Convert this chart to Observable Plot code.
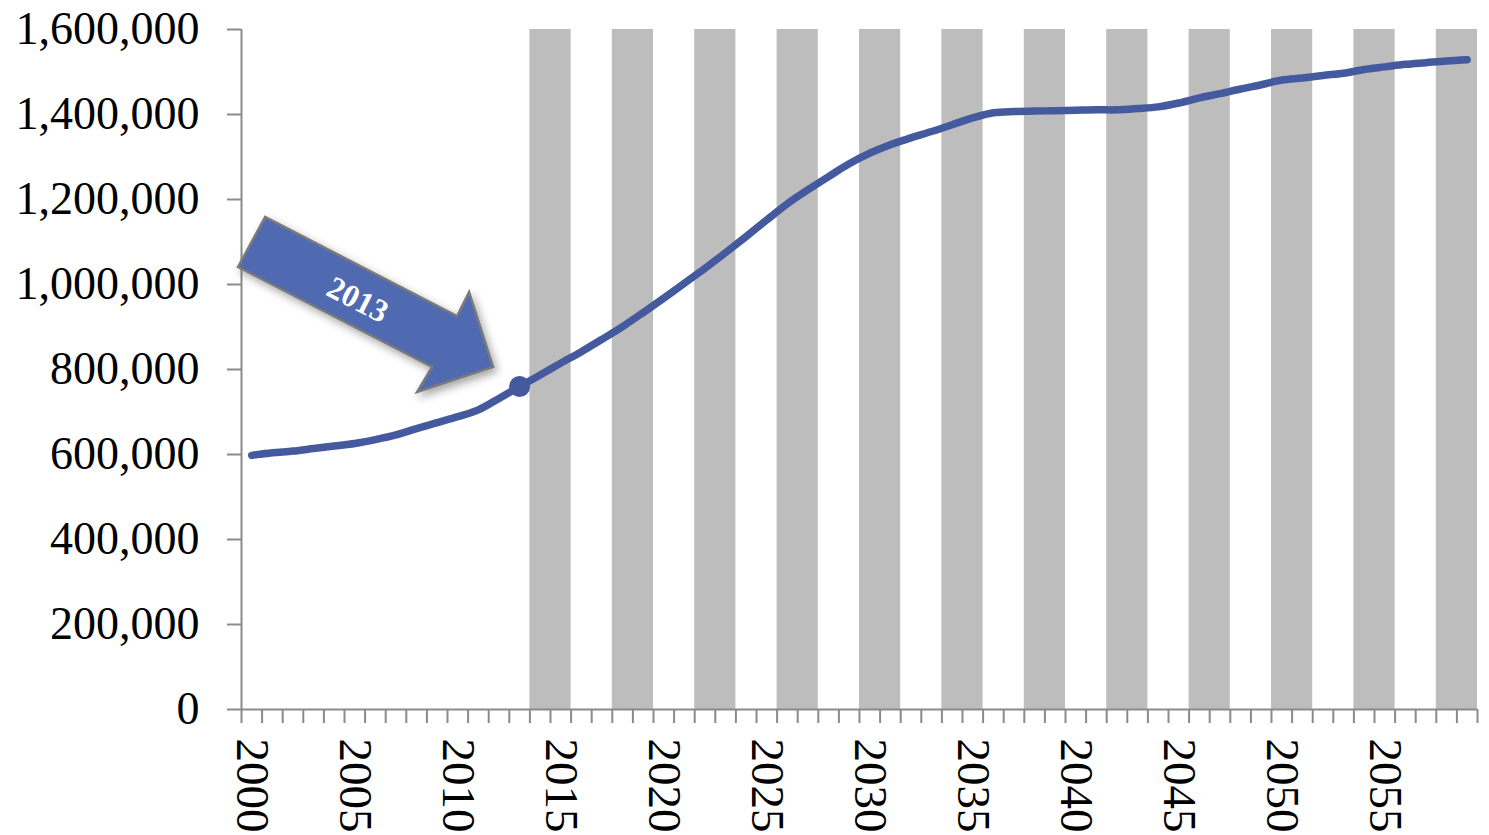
<!DOCTYPE html>
<html>
<head>
<meta charset="utf-8">
<script src="https://cdn.jsdelivr.net/npm/d3@7"></script>
<script src="https://cdn.jsdelivr.net/npm/@observablehq/plot@0.6"></script>
<style>
  html, body { margin: 0; padding: 0; background: #fff; overflow: hidden; }
  svg { display: block; }
</style>
</head>
<body>
<div id="chart"></div>
<script>
// ---- data ----
const years = [2000,2001,2002,2003,2004,2005,2006,2007,2008,2009,
               2010,2011,2012,2013,2014,2015,2016,2017,2018,2019,
               2020,2021,2022,2023,2024,2025,2026,2027,2028,2029,
               2030,2031,2032,2033,2034,2035,2036,2037,2038,2039,
               2040,2041,2042,2043,2044,2045,2046,2047,2048,2049,
               2050,2051,2052,2053,2054,2055,2056,2057,2058,2059];
const population = [598000,604000,608000,614000,620000,626000,635000,646000,661000,675000,
                    689000,705000,732000,760000,787000,815000,842000,871000,901000,934000,
                    968000,1003000,1038000,1075000,1113000,1152000,1190000,1223000,1254000,1284000,
                    1309000,1329000,1345000,1360000,1376000,1392000,1404000,1407000,1408000,1409000,
                    1410000,1411000,1411000,1414000,1418000,1427000,1439000,1449000,1460000,1470000,
                    1481000,1486000,1492000,1497000,1506000,1512000,1518000,1522000,1526000,1529000];
const shadedYears = [2014,2015,2018,2019,2022,2023,2026,2027,2030,2031,2034,2035,
                     2038,2039,2042,2043,2046,2047,2050,2051,2054,2055,2058,2059];
const shadedValue = 1600000;
const yTicks = [0,200000,400000,600000,800000,1000000,1200000,1400000,1600000];
const xLabelYears = [2000,2005,2010,2015,2020,2025,2030,2035,2040,2045,2050,2055];
const markerYear = 2013;
const markerLabel = "2013";

// ---- derived tables ----
const data = years.map((year, i) => ({year, value: population[i]}));
const boundaries = years.map(y => y - 0.5).concat([years[years.length - 1] + 0.5]);
const marker = data.filter(d => d.year === markerYear);
// merge consecutive shaded years into runs so adjacent bars show no seam
const runs = [];
for (const y of shadedYears) {
  const last = runs[runs.length - 1];
  if (last && last.end === y - 1) last.end = y;
  else runs.push({start: y, end: y});
}

const lineColor = "#44599E";
const axisColor = "#8a8a8a";
const font = "'Liberation Serif', 'Times New Roman', Times, serif";
const fs = 46;

const chart = Plot.plot({
  width: 1489,
  height: 835,
  marginLeft: 241,
  marginRight: 12,
  marginTop: 29,
  marginBottom: 126,
  style: {fontFamily: font, fontSize: fs + "px", color: "#000", background: "#fff", overflow: "visible"},
  x: {domain: [boundaries[0], boundaries[boundaries.length - 1]]},
  y: {domain: [0, shadedValue]},
  marks: [
    Plot.rectY(runs, {x1: d => d.start - 0.5, x2: d => d.end + 0.5, y1: 0, y2: () => shadedValue, fill: "#BDBDBD"}),
    Plot.ruleY([0], {stroke: axisColor, strokeWidth: 2}),
    Plot.ruleX([boundaries[0]], {stroke: axisColor, strokeWidth: 2}),
    Plot.axisY(yTicks, {tickSize: 14, tickPadding: 28, tickFormat: d3.format(","), stroke: axisColor, strokeWidth: 2, fill: "#000", fontSize: fs, label: null}),
    Plot.axisX(boundaries, {tickSize: 14, stroke: axisColor, strokeWidth: 2, fill: "none", label: null}),
    Plot.axisX(xLabelYears, {tickSize: 0, tickRotate: 90, tickPadding: 29, tickFormat: d => String(d), fill: "#000", fontSize: fs + 1, label: null}),
    Plot.line(data, {x: "year", y: "value", stroke: lineColor, strokeWidth: 7.5, curve: "catmull-rom", strokeLinecap: "round", strokeLinejoin: "round"}),
    Plot.dot(marker, {x: "year", y: "value", r: 10.5, fill: lineColor})
  ]
});

document.getElementById("chart").appendChild(chart);

// ---- annotation arrow pointing at the marker, positioned from the scales ----
const sx = chart.scale("x"), sy = chart.scale("y");
const mx = sx.apply(marker[0].year), my = sy.apply(marker[0].value);
const tip = [mx - 26, my - 19];
const shape = [[-228,-150],[-255,-100],[-61,0],[-76,25],[0,0],[-24,-75],[-36,-51]];
const svg = d3.select(chart);
const defs = svg.append("defs");
const filt = defs.append("filter").attr("id", "arrowShadow").attr("x", "-20%").attr("y", "-20%").attr("width", "140%").attr("height", "140%");
filt.append("feDropShadow").attr("dx", 3).attr("dy", 4).attr("stdDeviation", 4).attr("flood-color", "#000").attr("flood-opacity", 0.35);
const grad = defs.append("linearGradient").attr("id", "arrowGrad")
  .attr("gradientUnits", "userSpaceOnUse")
  .attr("x1", tip[0] - 228 + 12).attr("y1", tip[1] - 150 - 22)
  .attr("x2", tip[0] - 255 - 12).attr("y2", tip[1] - 100 + 22);
grad.append("stop").attr("offset", "0%").attr("stop-color", "#7d92cc");
grad.append("stop").attr("offset", "22%").attr("stop-color", "#4f6bb1");
grad.append("stop").attr("offset", "78%").attr("stop-color", "#4f6bb1");
grad.append("stop").attr("offset", "100%").attr("stop-color", "#7d92cc");
const g = svg.append("g");
g.append("path")
  .attr("d", "M" + shape.map(p => (tip[0] + p[0]) + "," + (tip[1] + p[1])).join("L") + "Z")
  .attr("fill", "#4f6bb1")
  .attr("stroke", "#7a7a7a")
  .attr("stroke-width", 2.5)
  .attr("stroke-linejoin", "miter")
  .attr("filter", "url(#arrowShadow)");
g.append("text")
  .attr("transform", `translate(${tip[0] - 135},${tip[1] - 68}) rotate(27)`)
  .attr("text-anchor", "middle")
  .attr("dy", "0.35em")
  .attr("fill", "#fff")
  .attr("font-family", font)
  .attr("font-weight", "bold")
  .attr("font-size", 32)
  .text(markerLabel);
</script>
</body>
</html>
